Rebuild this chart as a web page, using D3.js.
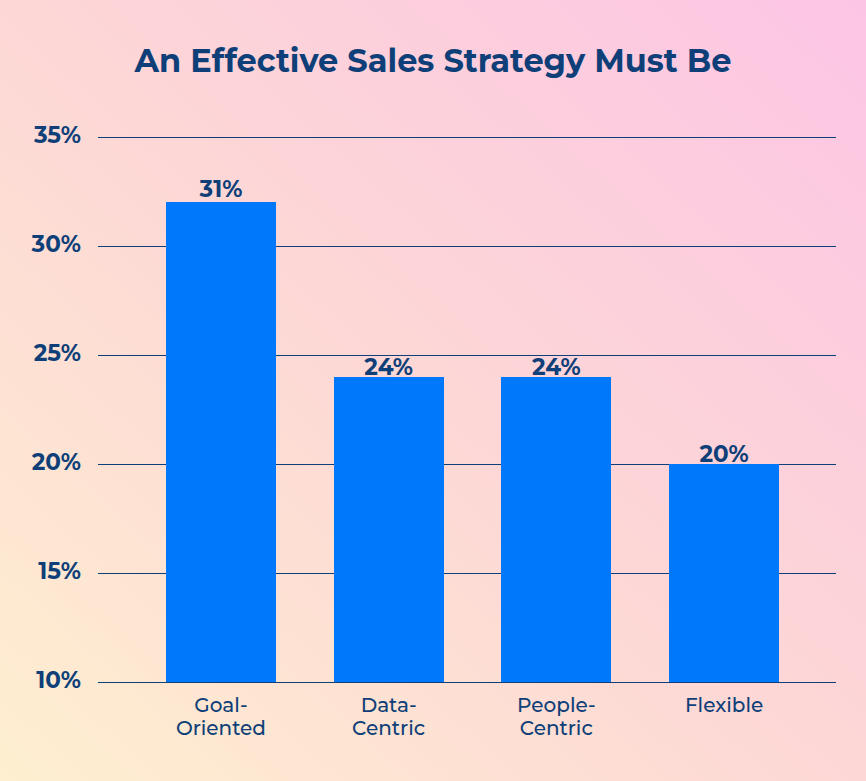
<!DOCTYPE html>
<html><head><meta charset="utf-8">
<script src="https://cdn.jsdelivr.net/npm/d3@7"></script>
<style>html,body{margin:0;padding:0;}svg{display:block;}</style>
</head><body>
<script>
const categories = [["Goal-","Oriented"],["Data-","Centric"],["People-","Centric"],["Flexible"]];
const values = [32, 24, 24, 20];
const valueLabels = ["31%", "24%", "24%", "20%"];
const yTicks = [10, 15, 20, 25, 30, 35];
const title = "An Effective Sales Strategy Must Be";

const W = 866, H = 781;
const navy = "#0e3f78", barColor = "#0078fb";
const font = "Montserrat, 'DejaVu Sans', sans-serif";

const svg = d3.select("body").append("svg").attr("width", W).attr("height", H);
const defs = svg.append("defs");
const grad = defs.append("linearGradient").attr("id","bg")
  .attr("x1","0%").attr("y1","100%").attr("x2","100%").attr("y2","0%");
grad.append("stop").attr("offset","0%").attr("stop-color","#feefd0");
grad.append("stop").attr("offset","50%").attr("stop-color","#fdd7d6");
grad.append("stop").attr("offset","100%").attr("stop-color","#fcc5e5");
svg.append("rect").attr("width",W).attr("height",H).attr("fill","url(#bg)");

svg.append("text").attr("x", 433).attr("y", 72).attr("text-anchor","middle")
  .attr("font-family", font).attr("font-weight", 700).attr("font-size", 32)
  .attr("fill", navy).text(title);

const y = d3.scaleLinear().domain([10, 35]).range([682, 137]);
const x = d3.scaleBand().domain(d3.range(categories.length)).range([98, 847])
  .paddingInner(0.344).paddingOuter(0.405);

const grid = svg.append("g").attr("shape-rendering","crispEdges");
grid.selectAll("line").data(yTicks).join("line")
  .attr("x1", 98).attr("x2", 836)
  .attr("y1", d => Math.round(y(d)) + 0.5).attr("y2", d => Math.round(y(d)) + 0.5)
  .attr("stroke", navy).attr("stroke-width", 1);

svg.append("g").selectAll("text").data(yTicks).join("text")
  .attr("x", 81).attr("y", d => y(d) + 6).attr("text-anchor","end")
  .attr("font-family", font).attr("font-weight", 700).attr("font-size", 23)
  .attr("fill", navy).text(d => d + "%");

svg.append("g").attr("shape-rendering","crispEdges").selectAll("rect").data(values).join("rect")
  .attr("x", (d,i) => x(i)).attr("width", x.bandwidth())
  .attr("y", d => y(d)).attr("height", d => y(10) - y(d))
  .attr("fill", barColor);

svg.append("g").selectAll("text").data(values).join("text")
  .attr("x", (d,i) => x(i) + x.bandwidth()/2)
  .attr("y", (d,i) => y(d) - (i === 0 ? 5 : 2))
  .attr("text-anchor","middle")
  .attr("font-family", font).attr("font-weight", 700).attr("font-size", 23)
  .attr("fill", navy).text((d,i) => valueLabels[i]);

const cat = svg.append("g").selectAll("text").data(categories).join("text")
  .attr("x", (d,i) => x(i) + x.bandwidth()/2)
  .attr("y", 712).attr("text-anchor","middle")
  .attr("font-family", font).attr("font-weight", 500).attr("font-size", 20)
  .attr("fill", navy);
cat.each(function(d){
  const t = d3.select(this);
  d.forEach((line, j) => {
    t.append("tspan").attr("x", t.attr("x")).attr("dy", j === 0 ? 0 : 23).text(line);
  });
});
</script>
</body></html>
